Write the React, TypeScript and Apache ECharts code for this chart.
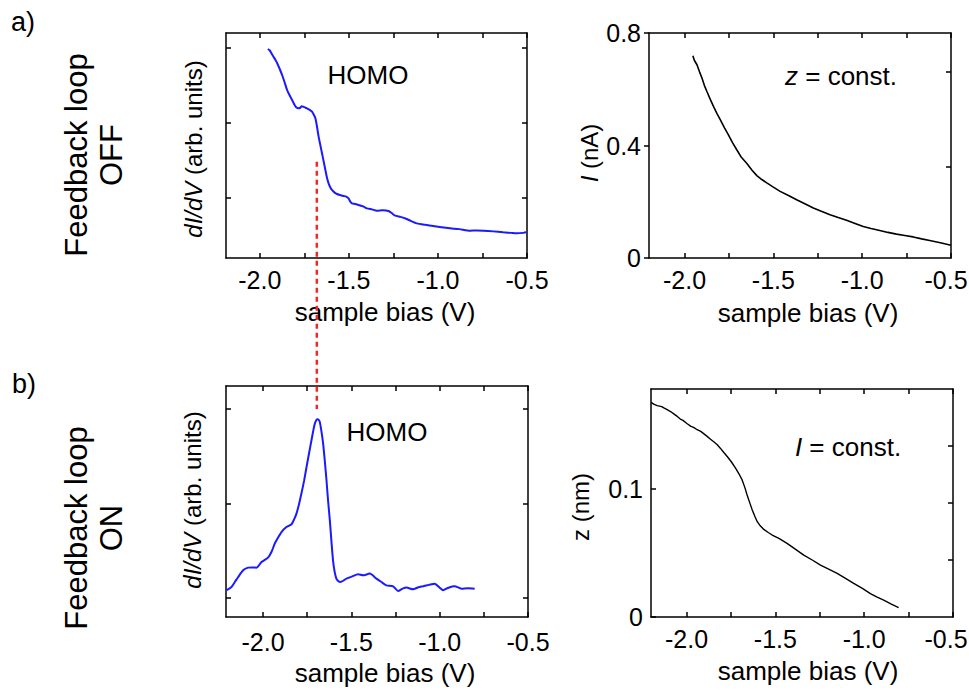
import React, { useEffect, useRef } from 'react';
import * as echarts from 'echarts';

const FONT = '"Liberation Sans", Arial, Helvetica, sans-serif';

// x-axis (sample bias, V) ticks and labels shared by all panels
const xTickValues = [-2.0, -1.75, -1.5, -1.25, -1.0, -0.75, -0.5];
const xLabelValues = [-2.0, -1.5, -1.0, -0.5];

// Panel a) left: dI/dV (arb. units), feedback loop OFF
const dIdVOff: [number, number][] = [
  [-1.955, 2.787], [-1.945, 2.77], [-1.935, 2.73], [-1.925, 2.69], [-1.912, 2.64], [-1.903, 2.6],
  [-1.894, 2.55], [-1.885, 2.5], [-1.875, 2.44], [-1.862, 2.35], [-1.847, 2.24], [-1.835, 2.18],
  [-1.819, 2.107], [-1.807, 2.05], [-1.796, 2.009], [-1.785, 1.998], [-1.775, 2.0], [-1.765, 2.022],
  [-1.757, 2.018], [-1.745, 2.004], [-1.735, 1.996], [-1.72, 1.975], [-1.707, 1.951], [-1.697, 1.91],
  [-1.688, 1.862], [-1.679, 1.75], [-1.670, 1.618], [-1.66, 1.5], [-1.651, 1.396], [-1.641, 1.28],
  [-1.632, 1.173], [-1.623, 1.07], [-1.614, 0.996], [-1.604, 0.94], [-1.595, 0.907], [-1.58, 0.872],
  [-1.567, 0.853], [-1.55, 0.84], [-1.53, 0.827], [-1.515, 0.818], [-1.502, 0.796], [-1.492, 0.752],
  [-1.483, 0.729], [-1.465, 0.72], [-1.446, 0.707], [-1.42, 0.688], [-1.399, 0.662], [-1.37, 0.648],
  [-1.343, 0.631], [-1.31, 0.636], [-1.278, 0.627], [-1.26, 0.6], [-1.24, 0.564], [-1.21, 0.548],
  [-1.175, 0.52], [-1.15, 0.492], [-1.119, 0.462], [-1.07, 0.442], [-1.026, 0.427], [-0.98, 0.41],
  [-0.932, 0.396], [-0.88, 0.385], [-0.82, 0.364], [-0.78, 0.367], [-0.746, 0.364], [-0.69, 0.355],
  [-0.634, 0.342], [-0.59, 0.335], [-0.559, 0.329], [-0.52, 0.335], [-0.503, 0.342],
];

// Panel a) right: I (nA), z = const.
const currentOff: [number, number][] = [
  [-1.953, 0.719], [-1.945, 0.703], [-1.93, 0.687], [-1.915, 0.661], [-1.902, 0.64], [-1.888, 0.613],
  [-1.874, 0.592], [-1.855, 0.564], [-1.837, 0.539], [-1.818, 0.514], [-1.799, 0.492], [-1.775, 0.463],
  [-1.753, 0.438], [-1.73, 0.41], [-1.706, 0.385], [-1.68, 0.358], [-1.649, 0.336], [-1.62, 0.312],
  [-1.593, 0.293], [-1.565, 0.279], [-1.537, 0.267], [-1.5, 0.252], [-1.462, 0.237], [-1.415, 0.222],
  [-1.369, 0.207], [-1.32, 0.192], [-1.275, 0.178], [-1.23, 0.166], [-1.181, 0.154], [-1.135, 0.144],
  [-1.088, 0.134], [-1.04, 0.123], [-0.994, 0.112], [-0.95, 0.105], [-0.901, 0.098], [-0.855, 0.091],
  [-0.807, 0.085], [-0.76, 0.08], [-0.713, 0.075], [-0.665, 0.068], [-0.62, 0.062], [-0.56, 0.054],
  [-0.5, 0.045],
];

// Panel b) left: dI/dV (arb. units), feedback loop ON
const dIdVOn: [number, number][] = [
  [-2.207, 0.283], [-2.179, 0.318], [-2.16, 0.37], [-2.141, 0.423], [-2.113, 0.494], [-2.085, 0.522],
  [-2.06, 0.525], [-2.037, 0.522], [-2.009, 0.582], [-1.972, 0.628], [-1.952, 0.69], [-1.934, 0.776],
  [-1.915, 0.84], [-1.896, 0.899], [-1.868, 0.952], [-1.839, 0.981], [-1.825, 1.03], [-1.811, 1.094],
  [-1.797, 1.19], [-1.783, 1.306], [-1.768, 1.44], [-1.754, 1.587], [-1.74, 1.73], [-1.726, 1.87],
  [-1.715, 1.98], [-1.707, 2.046], [-1.698, 2.085], [-1.692, 2.092], [-1.685, 2.085], [-1.679, 2.064],
  [-1.67, 1.97], [-1.66, 1.835], [-1.65, 1.64], [-1.641, 1.447], [-1.632, 1.23], [-1.622, 1.023],
  [-1.613, 0.8], [-1.604, 0.6], [-1.595, 0.48], [-1.585, 0.406], [-1.575, 0.38], [-1.562, 0.37],
  [-1.545, 0.385], [-1.528, 0.406], [-1.495, 0.43], [-1.462, 0.452], [-1.434, 0.441], [-1.396, 0.459],
  [-1.358, 0.406], [-1.33, 0.37], [-1.302, 0.335], [-1.264, 0.325], [-1.236, 0.275], [-1.21, 0.3],
  [-1.188, 0.311], [-1.151, 0.293], [-1.12, 0.315], [-1.094, 0.325], [-1.06, 0.34], [-1.028, 0.353],
  [-1.0, 0.31], [-0.981, 0.283], [-0.95, 0.31], [-0.915, 0.325], [-0.877, 0.3], [-0.84, 0.305],
  [-0.802, 0.3],
];

// Panel b) right: z (nm), I = const.
const heightOn: [number, number][] = [
  [-2.199, 0.1676], [-2.185, 0.1662], [-2.165, 0.165], [-2.14, 0.1642], [-2.125, 0.163], [-2.109, 0.1619],
  [-2.09, 0.1604], [-2.07, 0.1584], [-2.052, 0.1566], [-2.035, 0.1545], [-2.02, 0.1535], [-1.996, 0.1509],
  [-1.975, 0.1488], [-1.96, 0.148], [-1.94, 0.1462], [-1.92, 0.1449], [-1.9, 0.1428], [-1.884, 0.141],
  [-1.865, 0.1388], [-1.845, 0.1366], [-1.827, 0.1345], [-1.81, 0.1318], [-1.79, 0.1284], [-1.771, 0.1253],
  [-1.748, 0.1212], [-1.724, 0.1162], [-1.705, 0.1118], [-1.687, 0.107], [-1.672, 0.1012], [-1.659, 0.0953],
  [-1.645, 0.0895], [-1.63, 0.0836], [-1.615, 0.0785], [-1.602, 0.0744], [-1.585, 0.0712], [-1.565, 0.0684],
  [-1.54, 0.066], [-1.518, 0.064], [-1.48, 0.0614], [-1.434, 0.0575], [-1.39, 0.0532], [-1.34, 0.0483],
  [-1.29, 0.0443], [-1.246, 0.0405], [-1.2, 0.0374], [-1.152, 0.034], [-1.105, 0.0301], [-1.059, 0.0262],
  [-1.01, 0.0224], [-0.965, 0.0183], [-0.93, 0.0158], [-0.89, 0.0131], [-0.85, 0.0102], [-0.806, 0.0074],
];

// Red dashed HOMO marker (bias, top in panel a units, bottom in panel b units)
const homoBias = -1.68;
const homoTopA = 1.284;
const homoBottomB = 2.2;

const BLUE = '#1a1aff';
const BLACK = '#000';
const TICK_FS = 25;

const axisLine = { show: true, onZero: false, lineStyle: { color: BLACK, width: 1.5 } };

function xAxes(gridIndex: number, min: number, margin: number, lastPad: number) {
  const tick = { show: true, inside: true, length: 5, customValues: xTickValues, lineStyle: { color: BLACK, width: 1.5 } };
  return [
    {
      type: 'value', gridIndex, min, max: -0.5, position: 'bottom',
      axisLine, axisTick: tick, splitLine: { show: false },
      axisLabel: {
        show: true, customValues: xLabelValues, margin,
        formatter: (v: number) => (Math.abs(v + 0.5) < 1e-9 && lastPad > 0 ? `{e|${v.toFixed(1)}}` : v.toFixed(1)),
        color: BLACK, fontSize: TICK_FS, fontFamily: FONT,
        rich: { e: { fontSize: TICK_FS, fontFamily: FONT, color: BLACK, padding: [0, lastPad, 0, 0] } },
      },
    },
    {
      type: 'value', gridIndex, min, max: -0.5, position: 'top',
      axisLine, axisTick: tick, splitLine: { show: false }, axisLabel: { show: false },
    },
  ];
}

function yAxes(
  gridIndex: number, min: number, max: number,
  leftTicks: number[], rightTicks: number[], leftLabels: number[] | null, leftInside: boolean,
) {
  return [
    {
      type: 'value', gridIndex, min, max, position: 'left',
      axisLine, splitLine: { show: false },
      axisTick: { show: true, inside: leftInside, length: 5, customValues: leftTicks, lineStyle: { color: BLACK, width: 1.5 } },
      axisLabel: leftLabels
        ? { show: true, customValues: leftLabels, margin: 8, formatter: (v: number) => String(v), color: BLACK, fontSize: TICK_FS, fontFamily: FONT }
        : { show: false },
    },
    {
      type: 'value', gridIndex, min, max, position: 'right',
      axisLine, splitLine: { show: false },
      axisTick: { show: true, inside: true, length: 5, customValues: rightTicks, lineStyle: { color: BLACK, width: 1.5 } },
      axisLabel: { show: false },
    },
  ];
}

function txt(id: string, x: number, y: number, text: string, fontSize: number, rotation = 0, extra: any = {}) {
  return {
    id, type: 'text', x, y, rotation, z: 10,
    style: {
      text, fontSize, fontFamily: FONT, fill: BLACK, align: 'center', verticalAlign: 'middle',
      rich: { i: { fontStyle: 'italic', fontSize, fontFamily: FONT, fill: BLACK } },
      ...extra,
    },
  };
}

export default function App() {
  const ref = useRef<HTMLDivElement>(null);
  useEffect(() => {
    if (!ref.current) return;
    const chart = echarts.init(ref.current, null, { renderer: 'svg' });
    const R = Math.PI / 2;
    const option: any = {
      animation: false,
      backgroundColor: '#fff',
      grid: [
        { left: 226, top: 33, width: 301, height: 225, outerBoundsMode: 'none' },
        { left: 649, top: 33, width: 302, height: 225, outerBoundsMode: 'none' },
        { left: 226, top: 386, width: 302, height: 231, outerBoundsMode: 'none' },
        { left: 651, top: 389, width: 302, height: 228, outerBoundsMode: 'none' },
      ],
      xAxis: [
        ...xAxes(0, -2.19, 9, 0),
        ...xAxes(1, -2.2, 9, 10),
        ...xAxes(2, -2.21, 12, 0),
        ...xAxes(3, -2.2, 9, 14),
      ],
      yAxis: [
        ...yAxes(0, 0, 3.0, [0.8, 1.8, 2.8], [0.8, 1.8, 2.8], null, true),
        ...yAxes(1, 0, 0.8, [0, 0.4, 0.8], [0.326, 0.663], [0, 0.4, 0.8], false),
        ...yAxes(2, 0, 2.444, [0.2, 1.2, 2.2], [0.2, 1.2, 2.2], null, true),
        ...yAxes(3, 0, 0.178, [0, 0.1], [0.0449, 0.0893, 0.1337], [0, 0.1], true),
      ],
      series: [
        { type: 'line', xAxisIndex: 0, yAxisIndex: 0, data: dIdVOff, showSymbol: false, symbol: 'none', smooth: 0.2, lineStyle: { color: BLUE, width: 2 } },
        { type: 'line', xAxisIndex: 2, yAxisIndex: 2, data: currentOff, showSymbol: false, symbol: 'none', lineStyle: { color: BLACK, width: 1.6 } },
        { type: 'line', xAxisIndex: 4, yAxisIndex: 4, data: dIdVOn, showSymbol: false, symbol: 'none', smooth: 0.2, lineStyle: { color: BLUE, width: 2 } },
        { type: 'line', xAxisIndex: 6, yAxisIndex: 6, data: heightOn, showSymbol: false, symbol: 'none', lineStyle: { color: BLACK, width: 1.4 } },
      ],
      graphic: [
        txt('a', 23, 22, 'a)', 27),
        txt('b', 24, 384, 'b)', 27),
        txt('fbOff', 94, 155, 'Feedback loop\nOFF', 31, R, { lineHeight: 35 }),
        txt('fbOn', 94, 528, 'Feedback loop\nON', 31, R, { lineHeight: 35 }),
        txt('yA1', 193, 149, '{i|dI/dV} (arb. units)', 24, R),
        txt('yB1', 192, 500, '{i|dI/dV} (arb. units)', 24, R),
        txt('yA2', 589, 153, '{i|I} (nA)', 24, R),
        txt('yB2', 580, 507, 'z (nm)', 24, R),
        txt('homoA', 368, 75, 'HOMO', 26),
        txt('homoB', 387, 432, 'HOMO', 26),
        txt('zc', 841, 76, '{i|z} = const.', 26),
        txt('ic', 848, 447, '{i|I} = const.', 26),
        txt('xA1', 385, 312, 'sample bias (V)', 26),
        txt('xA2', 808, 313, 'sample bias (V)', 26),
        txt('xB1', 385, 673, 'sample bias (V)', 26),
        txt('xB2', 808, 671, 'sample bias (V)', 26),
      ],
    };
    chart.setOption(option);
    const px = chart.convertToPixel({ xAxisIndex: 0 }, homoBias) as number;
    const pyTop = chart.convertToPixel({ yAxisIndex: 0 }, homoTopA) as number;
    const pyBottom = chart.convertToPixel({ yAxisIndex: 4 }, homoBottomB) as number;
    chart.setOption({
      graphic: [
        {
          id: 'homoLine', type: 'line', z: 20,
          shape: { x1: px, y1: pyTop, x2: px, y2: pyBottom },
          style: { stroke: '#f02828', lineWidth: 2.5, lineDash: [5, 4] },
        },
      ],
    });
    return () => chart.dispose();
  }, []);
  return <div ref={ref} style={{ position: 'absolute', left: 0, top: 0, width: 969, height: 691, background: '#fff' }} />;
}
